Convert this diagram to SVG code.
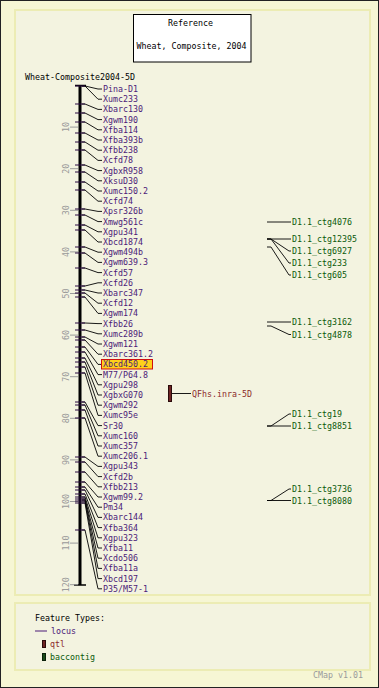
<svg xmlns="http://www.w3.org/2000/svg" width="379" height="688" viewBox="0 0 379 688">
<style>
text{font-family:"DejaVu Sans Mono","Liberation Mono",monospace;font-size:8.3px}
.lab{fill:#4b1a78}
.ctg{fill:#0b5a0b}
.qtl{fill:#8b2a2a}
.blk{fill:#000}
.sc{fill:#9a9a9a;text-anchor:middle}
.tick{stroke:#2a0a40;stroke-width:1}
.con{fill:none;stroke:#000;stroke-width:0.9}
.stick{stroke:#9a9a9a;stroke-width:1}
</style>
<rect x="0.5" y="0.5" width="378" height="687" fill="#f6f6d4" stroke="#222"/>
<rect x="15" y="10" width="355" height="585" fill="#f3f3e0" stroke="#ececb4" stroke-width="2"/>
<rect x="15" y="603" width="355" height="67" fill="#f3f3e0" stroke="#ececb4" stroke-width="2"/>

<g id="reference-box">
<rect x="133.5" y="14.5" width="117.5" height="47.5" fill="#fff" stroke="#000"/>
<text x="190.5" y="26" text-anchor="middle" class="blk">Reference</text>
<text x="191.5" y="48.5" text-anchor="middle" class="blk">Wheat, Composite, 2004</text>
</g>
<text id="map-title" x="25" y="80" class="blk">Wheat-Composite2004-5D</text>

<g id="axis">
<line x1="80" y1="85.5" x2="80" y2="585" stroke="#000" stroke-width="3"/>
<line x1="75" y1="85.5" x2="86" y2="85.5" stroke="#000" stroke-width="1.5"/>
<line x1="74" y1="585" x2="86" y2="585" stroke="#000" stroke-width="1.5"/>
<g class="stick">
<line x1="70" y1="127.1" x2="78" y2="127.1"/><line x1="70" y1="168.7" x2="78" y2="168.7"/><line x1="70" y1="210.3" x2="78" y2="210.3"/><line x1="70" y1="251.9" x2="78" y2="251.9"/><line x1="70" y1="293.5" x2="78" y2="293.5"/><line x1="70" y1="335.1" x2="78" y2="335.1"/><line x1="70" y1="376.7" x2="78" y2="376.7"/><line x1="70" y1="418.3" x2="78" y2="418.3"/><line x1="70" y1="459.9" x2="78" y2="459.9"/><line x1="70" y1="501.5" x2="78" y2="501.5"/><line x1="70" y1="543.1" x2="78" y2="543.1"/><line x1="70" y1="584.7" x2="78" y2="584.7"/>
</g>
<text class="sc" transform="translate(69,127.1) rotate(-90)">10</text>
<text class="sc" transform="translate(69,168.7) rotate(-90)">20</text>
<text class="sc" transform="translate(69,210.3) rotate(-90)">30</text>
<text class="sc" transform="translate(69,251.9) rotate(-90)">40</text>
<text class="sc" transform="translate(69,293.5) rotate(-90)">50</text>
<text class="sc" transform="translate(69,335.1) rotate(-90)">60</text>
<text class="sc" transform="translate(69,376.7) rotate(-90)">70</text>
<text class="sc" transform="translate(69,418.3) rotate(-90)">80</text>
<text class="sc" transform="translate(69,459.9) rotate(-90)">90</text>
<text class="sc" transform="translate(69,501.5) rotate(-90)">100</text>
<text class="sc" transform="translate(69,543.1) rotate(-90)">110</text>
<text class="sc" transform="translate(69,584.7) rotate(-90)">120</text>
</g>

<g id="connectors" class="con">
<polyline points="82,86 85,86 98,89 102,89"/>
<polyline points="82,86 85,86 98,99.2 102,99.2"/>
<polyline points="82,104 85,104 98,109.4 102,109.4"/>
<polyline points="82,113 85,113 98,119.6 102,119.6"/>
<polyline points="82,122 85,122 98,129.8 102,129.8"/>
<polyline points="82,133 85,133 98,140 102,140"/>
<polyline points="82,142 85,142 98,150.2 102,150.2"/>
<polyline points="82,150 85,150 98,160.4 102,160.4"/>
<polyline points="82,165 85,165 98,170.6 102,170.6"/>
<polyline points="82,172 85,172 98,180.8 102,180.8"/>
<polyline points="82,182 85,182 98,191 102,191"/>
<polyline points="82,190 85,190 98,201.2 102,201.2"/>
<polyline points="82,209 85,209 98,211.4 102,211.4"/>
<polyline points="82,215 85,215 98,221.6 102,221.6"/>
<polyline points="82,225 85,225 98,231.8 102,231.8"/>
<polyline points="82,230 85,230 98,242 102,242"/>
<polyline points="82,247 85,247 98,252.2 102,252.2"/>
<polyline points="82,253 85,253 98,262.4 102,262.4"/>
<polyline points="82,268 85,268 98,272.6 102,272.6"/>
<polyline points="82,286 85,286 98,282.8 102,282.8"/>
<polyline points="82,290 85,290 98,293 102,293"/>
<polyline points="82,293 85,293 98,303.2 102,303.2"/>
<polyline points="82,297 85,297 98,313.4 102,313.4"/>
<polyline points="82,323 85,323 98,323.6 102,323.6"/>
<polyline points="82,330 85,330 98,333.8 102,333.8"/>
<polyline points="82,337 85,337 98,344 102,344"/>
<polyline points="82,340 85,340 98,354.2 102,354.2"/>
<polyline points="82,347 85,347 98,364.4 102,364.4"/>
<polyline points="82,352 85,352 98,374.6 102,374.6"/>
<polyline points="82,358 85,358 98,384.8 102,384.8"/>
<polyline points="82,362 85,362 98,395 102,395"/>
<polyline points="82,367 85,367 98,405.2 102,405.2"/>
<polyline points="82,373 85,373 98,415.4 102,415.4"/>
<polyline points="82,402 85,402 98,425.6 102,425.6"/>
<polyline points="82,405 85,405 98,435.8 102,435.8"/>
<polyline points="82,410 85,410 98,446 102,446"/>
<polyline points="82,418 85,418 98,456.2 102,456.2"/>
<polyline points="82,457 85,457 98,466.4 102,466.4"/>
<polyline points="82,462 85,462 98,476.6 102,476.6"/>
<polyline points="82,472 85,472 98,486.8 102,486.8"/>
<polyline points="82,482 85,482 98,497 102,497"/>
<polyline points="82,487 85,487 98,507.2 102,507.2"/>
<polyline points="82,490 85,490 98,517.4 102,517.4"/>
<polyline points="82,494 85,494 98,527.6 102,527.6"/>
<polyline points="82,497 85,497 98,537.8 102,537.8"/>
<polyline points="82,499 85,499 98,548 102,548"/>
<polyline points="82,500 85,500 98,558.2 102,558.2"/>
<polyline points="82,501 85,501 98,568.4 102,568.4"/>
<polyline points="82,503 85,503 98,578.6 102,578.6"/>
<polyline points="82,530 85,530 98,588.8 102,588.8"/>
<line x1="172" y1="393.5" x2="191" y2="393.5"/>
<polyline points="267,222 291,222"/>
<polyline points="267,239 291,239"/>
<polyline points="267,239 271,239 289,251 291,251"/>
<polyline points="267,239 271,239 289,263 291,263"/>
<polyline points="267,247 271,247 289,275 291,275"/>
<polyline points="267,322 291,322"/>
<polyline points="267,326 271,326 289,334.5 291,334.5"/>
<polyline points="267,426 271,426 289,414 291,414"/>
<polyline points="267,426 291,426"/>
<polyline points="267,500.5 271,500.5 289,489 291,489"/>
<polyline points="267,500.5 291,500.5"/>
</g>

<g id="locus-ticks" class="tick">
<line x1="75" y1="86" x2="85" y2="86"/><line x1="75" y1="104" x2="85" y2="104"/><line x1="75" y1="113" x2="85" y2="113"/><line x1="75" y1="122" x2="85" y2="122"/><line x1="75" y1="133" x2="85" y2="133"/><line x1="75" y1="142" x2="85" y2="142"/><line x1="75" y1="150" x2="85" y2="150"/><line x1="75" y1="165" x2="85" y2="165"/><line x1="75" y1="172" x2="85" y2="172"/><line x1="75" y1="182" x2="85" y2="182"/><line x1="75" y1="190" x2="85" y2="190"/><line x1="75" y1="209" x2="85" y2="209"/><line x1="75" y1="215" x2="85" y2="215"/><line x1="75" y1="225" x2="85" y2="225"/><line x1="75" y1="230" x2="85" y2="230"/><line x1="75" y1="247" x2="85" y2="247"/><line x1="75" y1="253" x2="85" y2="253"/><line x1="75" y1="268" x2="85" y2="268"/><line x1="75" y1="286" x2="85" y2="286"/><line x1="75" y1="290" x2="85" y2="290"/><line x1="75" y1="293" x2="85" y2="293"/><line x1="75" y1="297" x2="85" y2="297"/><line x1="75" y1="323" x2="85" y2="323"/><line x1="75" y1="330" x2="85" y2="330"/><line x1="75" y1="337" x2="85" y2="337"/><line x1="75" y1="340" x2="85" y2="340"/><line x1="75" y1="347" x2="85" y2="347"/><line x1="75" y1="352" x2="85" y2="352"/><line x1="75" y1="358" x2="85" y2="358"/><line x1="75" y1="362" x2="85" y2="362"/><line x1="75" y1="367" x2="85" y2="367"/><line x1="75" y1="373" x2="85" y2="373"/><line x1="75" y1="402" x2="85" y2="402"/><line x1="75" y1="405" x2="85" y2="405"/><line x1="75" y1="410" x2="85" y2="410"/><line x1="75" y1="418" x2="85" y2="418"/><line x1="75" y1="457" x2="85" y2="457"/><line x1="75" y1="462" x2="85" y2="462"/><line x1="75" y1="472" x2="85" y2="472"/><line x1="75" y1="482" x2="85" y2="482"/><line x1="75" y1="487" x2="85" y2="487"/><line x1="75" y1="490" x2="85" y2="490"/><line x1="75" y1="494" x2="85" y2="494"/><line x1="75" y1="497" x2="85" y2="497"/><line x1="75" y1="499" x2="85" y2="499"/><line x1="75" y1="501" x2="85" y2="501"/><line x1="75" y1="503" x2="85" y2="503"/><line x1="75" y1="530" x2="85" y2="530"/>
</g>

<g id="loci" class="lab">
<g id="Pina-D1"><text x="103" y="92">Pina-D1</text></g>
<g id="Xumc233"><text x="103" y="102.2">Xumc233</text></g>
<g id="Xbarc130"><text x="103" y="112.4">Xbarc130</text></g>
<g id="Xgwm190"><text x="103" y="122.6">Xgwm190</text></g>
<g id="Xfba114"><text x="103" y="132.8">Xfba114</text></g>
<g id="Xfba393b"><text x="103" y="143">Xfba393b</text></g>
<g id="Xfbb238"><text x="103" y="153.2">Xfbb238</text></g>
<g id="Xcfd78"><text x="103" y="163.4">Xcfd78</text></g>
<g id="XgbxR958"><text x="103" y="173.6">XgbxR958</text></g>
<g id="XksuD30"><text x="103" y="183.8">XksuD30</text></g>
<g id="Xumc150.2"><text x="103" y="194">Xumc150.2</text></g>
<g id="Xcfd74"><text x="103" y="204.2">Xcfd74</text></g>
<g id="Xpsr326b"><text x="103" y="214.4">Xpsr326b</text></g>
<g id="Xmwg561c"><text x="103" y="224.6">Xmwg561c</text></g>
<g id="Xgpu341"><text x="103" y="234.8">Xgpu341</text></g>
<g id="Xbcd1874"><text x="103" y="245">Xbcd1874</text></g>
<g id="Xgwm494b"><text x="103" y="255.2">Xgwm494b</text></g>
<g id="Xgwm639.3"><text x="103" y="265.4">Xgwm639.3</text></g>
<g id="Xcfd57"><text x="103" y="275.6">Xcfd57</text></g>
<g id="Xcfd26"><text x="103" y="285.8">Xcfd26</text></g>
<g id="Xbarc347"><text x="103" y="296">Xbarc347</text></g>
<g id="Xcfd12"><text x="103" y="306.2">Xcfd12</text></g>
<g id="Xgwm174"><text x="103" y="316.4">Xgwm174</text></g>
<g id="Xfbb26"><text x="103" y="326.6">Xfbb26</text></g>
<g id="Xumc289b"><text x="103" y="336.8">Xumc289b</text></g>
<g id="Xgwm121"><text x="103" y="347">Xgwm121</text></g>
<g id="Xbarc361.2"><text x="103" y="357.2">Xbarc361.2</text></g>
<g id="Xbcd450.2"><rect x="101.5" y="359.5" width="51" height="9.5" fill="#ffd11a" stroke="#d01010"/><text x="103" y="367.4">Xbcd450.2</text></g>
<g id="M77-P64.8"><text x="103" y="377.6">M77/P64.8</text></g>
<g id="Xgpu298"><text x="103" y="387.8">Xgpu298</text></g>
<g id="XgbxG070"><text x="103" y="398">XgbxG070</text></g>
<g id="Xgwm292"><text x="103" y="408.2">Xgwm292</text></g>
<g id="Xumc95e"><text x="103" y="418.4">Xumc95e</text></g>
<g id="Sr30"><text x="103" y="428.6">Sr30</text></g>
<g id="Xumc160"><text x="103" y="438.8">Xumc160</text></g>
<g id="Xumc357"><text x="103" y="449">Xumc357</text></g>
<g id="Xumc206.1"><text x="103" y="459.2">Xumc206.1</text></g>
<g id="Xgpu343"><text x="103" y="469.4">Xgpu343</text></g>
<g id="Xcfd2b"><text x="103" y="479.6">Xcfd2b</text></g>
<g id="Xfbb213"><text x="103" y="489.8">Xfbb213</text></g>
<g id="Xgwm99.2"><text x="103" y="500">Xgwm99.2</text></g>
<g id="Pm34"><text x="103" y="510.2">Pm34</text></g>
<g id="Xbarc144"><text x="103" y="520.4">Xbarc144</text></g>
<g id="Xfba364"><text x="103" y="530.6">Xfba364</text></g>
<g id="Xgpu323"><text x="103" y="540.8">Xgpu323</text></g>
<g id="Xfba11"><text x="103" y="551">Xfba11</text></g>
<g id="Xcdo506"><text x="103" y="561.2">Xcdo506</text></g>
<g id="Xfba11a"><text x="103" y="571.4">Xfba11a</text></g>
<g id="Xbcd197"><text x="103" y="581.6">Xbcd197</text></g>
<g id="P35-M57-1"><text x="103" y="591.8">P35/M57-1</text></g>
</g>

<g id="QFhs.inra-5D">
<rect x="168.5" y="385.5" width="3" height="16" fill="#6e2424" stroke="#2a0a0a"/>
<text x="192" y="397" class="qtl">QFhs.inra-5D</text>
</g>

<g id="contigs" class="ctg">
<g id="D1.1_ctg4076"><text x="292" y="225">D1.1_ctg4076</text></g>
<g id="D1.1_ctg12395"><text x="292" y="242">D1.1_ctg12395</text></g>
<g id="D1.1_ctg6927"><text x="292" y="254">D1.1_ctg6927</text></g>
<g id="D1.1_ctg233"><text x="292" y="266">D1.1_ctg233</text></g>
<g id="D1.1_ctg605"><text x="292" y="278">D1.1_ctg605</text></g>
<g id="D1.1_ctg3162"><text x="292" y="325">D1.1_ctg3162</text></g>
<g id="D1.1_ctg4878"><text x="292" y="337.5">D1.1_ctg4878</text></g>
<g id="D1.1_ctg19"><text x="292" y="417">D1.1_ctg19</text></g>
<g id="D1.1_ctg8851"><text x="292" y="429">D1.1_ctg8851</text></g>
<g id="D1.1_ctg3736"><text x="292" y="492">D1.1_ctg3736</text></g>
<g id="D1.1_ctg8080"><text x="292" y="503.5">D1.1_ctg8080</text></g>
</g>

<g id="legend">
<text x="35" y="620.5" class="blk">Feature Types:</text>
<line x1="35" y1="631" x2="47" y2="631" stroke="#4b1a78" stroke-width="1"/>
<text x="51" y="633.5" class="lab">locus</text>
<rect x="42.5" y="640.5" width="3" height="7" fill="#6e2424" stroke="#2a0a0a"/>
<text x="50" y="646.5" class="qtl">qtl</text>
<rect x="42.5" y="653.5" width="3" height="7" fill="#1a4a1a" stroke="#0a200a"/>
<text x="50" y="659.5" class="ctg">baccontig</text>
</g>
<text id="version" x="313" y="677.5" fill="#9a9a9a">CMap v1.01</text>
</svg>
